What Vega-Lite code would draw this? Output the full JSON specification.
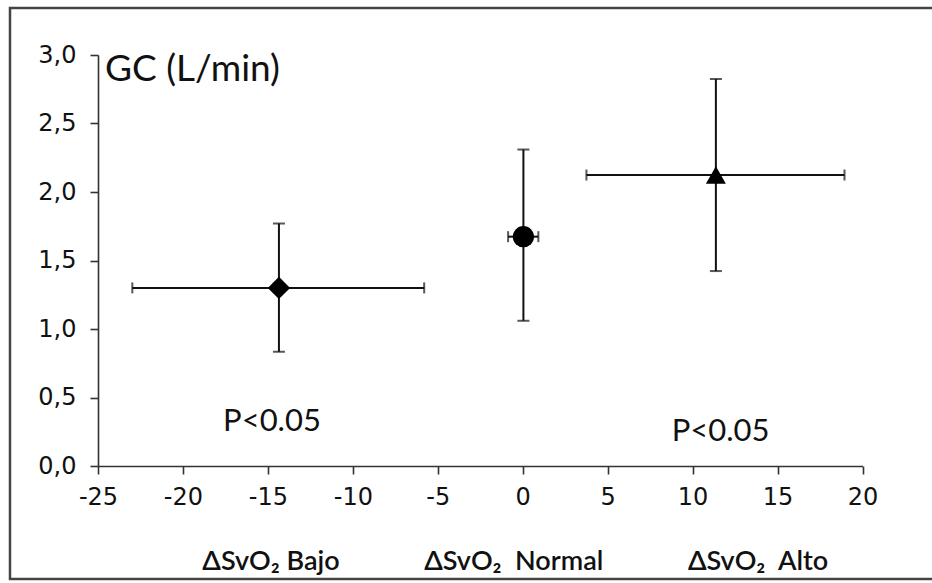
{
  "$schema": "https://vega.github.io/schema/vega-lite/v6.json",
  "width": 764.5,
  "height": 411,
  "autosize": {"type": "none"},
  "padding": {"left": 98, "top": 55, "right": 69.5, "bottom": 117},
  "background": "white",
  "config": {
    "view": {"stroke": null},
    "axis": {
      "grid": false,
      "domainColor": "#333333",
      "domainWidth": 1.6,
      "tickColor": "#333333",
      "tickWidth": 1.6,
      "tickSize": 8,
      "labelFlush": false,
      "labelOverlap": false,
      "labelFont": "DejaVu Sans",
      "labelFontSize": 24,
      "labelColor": "#111111"
    }
  },
  "datasets": {
    "puntos": [
      {"grupo": "Bajo", "x": -14.35, "xlo": -22.98, "xhi": -5.8, "y": 1.3, "ylo": 0.834, "yhi": 1.77},
      {"grupo": "Normal", "x": 0.04, "xlo": -0.86, "xhi": 0.92, "y": 1.674, "ylo": 1.06, "yhi": 2.31},
      {"grupo": "Alto", "x": 11.37, "xlo": 3.75, "xhi": 18.94, "y": 2.124, "ylo": 1.423, "yhi": 2.825}
    ],
    "notas": [
      {"texto": "P<0.05", "x": -14.76, "y": 0.32},
      {"texto": "P<0.05", "x": 11.65, "y": 0.248}
    ],
    "grupos": [
      {"texto": "ΔSvO₂ Bajo", "x": -14.82, "y": -0.70},
      {"texto": "ΔSvO₂\u00a0 Normal", "x": -0.53, "y": -0.70},
      {"texto": "ΔSvO₂\u00a0 Alto", "x": 13.85, "y": -0.70}
    ]
  },
  "layer": [
    {
      "data": {"values": [{}]},
      "mark": {"type": "rect", "fill": null, "stroke": "#444444", "strokeWidth": 2.5},
      "encoding": {
        "x": {"datum": -30.18, "type": "quantitative", "title": null, "scale": {"domain": [-25, 20], "nice": false, "zero": false},
              "axis": {"values": [-25, -20, -15, -10, -5, 0, 5, 10, 15, 20], "labelExpr": "'' + datum.value", "labelPadding": 11, "title": null,
                       "labelFlush": false, "labelFont": "DejaVu Sans", "labelFontSize": 24, "labelColor": "#111111"}},
        "x2": {"datum": 24.3},
        "y": {"datum": 3.343, "type": "quantitative", "title": null, "scale": {"domain": [0, 3], "nice": false, "zero": false},
              "axis": {"values": [0, 0.5, 1, 1.5, 2, 2.5, 3], "labelExpr": "replace(format(datum.value, '.1f'), '.', ',')", "labelPadding": 14, "title": null,
                       "labelFlush": false, "labelFont": "DejaVu Sans", "labelFontSize": 24, "labelColor": "#111111"}},
        "y2": {"datum": -0.825}
      }
    },
    {
      "data": {"name": "puntos"},
      "mark": {"type": "errorbar", "ticks": {"size": 11, "thickness": 2, "color": "#111111"}, "thickness": 2, "color": "#111111"},
      "encoding": {
        "x": {"field": "xlo", "type": "quantitative", "title": null},
        "x2": {"field": "xhi"},
        "y": {"field": "y", "type": "quantitative", "title": null}
      }
    },
    {
      "data": {"name": "puntos"},
      "mark": {"type": "errorbar", "ticks": {"size": 12, "thickness": 2, "color": "#111111"}, "thickness": 2, "color": "#111111"},
      "encoding": {
        "y": {"field": "ylo", "type": "quantitative", "title": null},
        "y2": {"field": "yhi"},
        "x": {"field": "x", "type": "quantitative", "title": null}
      }
    },
    {
      "data": {"name": "puntos"},
      "mark": {"type": "point", "filled": true, "color": "#000000", "opacity": 1},
      "encoding": {
        "x": {"field": "x", "type": "quantitative", "title": null},
        "y": {"field": "y", "type": "quantitative", "title": null},
        "shape": {"field": "grupo", "type": "nominal", "scale": {"domain": ["Bajo", "Normal", "Alto"], "range": ["diamond", "circle", "triangle-up"]}, "legend": null},
        "size": {"field": "grupo", "type": "ordinal", "scale": {"domain": ["Bajo", "Normal", "Alto"], "range": [500, 400, 625]}, "legend": null}
      }
    },
    {
      "data": {"values": [{"texto": "GC (L/min)", "x": -24.59, "y": 2.81}]},
      "mark": {"type": "text", "font": "Lato", "fontSize": 37, "align": "left", "baseline": "alphabetic", "color": "#111111"},
      "encoding": {
        "x": {"field": "x", "type": "quantitative", "title": null},
        "y": {"field": "y", "type": "quantitative", "title": null},
        "text": {"field": "texto"}
      }
    },
    {
      "data": {"name": "notas"},
      "mark": {"type": "text", "font": "Lato", "fontSize": 31, "align": "center", "baseline": "middle", "color": "#111111"},
      "encoding": {
        "x": {"field": "x", "type": "quantitative", "title": null},
        "y": {"field": "y", "type": "quantitative", "title": null},
        "text": {"field": "texto"}
      }
    },
    {
      "data": {"name": "grupos"},
      "mark": {"type": "text", "font": "Lato", "fontSize": 27, "fontWeight": 600, "align": "center", "baseline": "middle", "color": "#111111"},
      "encoding": {
        "x": {"field": "x", "type": "quantitative", "title": null},
        "y": {"field": "y", "type": "quantitative", "title": null},
        "text": {"field": "texto"}
      }
    }
  ]
}
